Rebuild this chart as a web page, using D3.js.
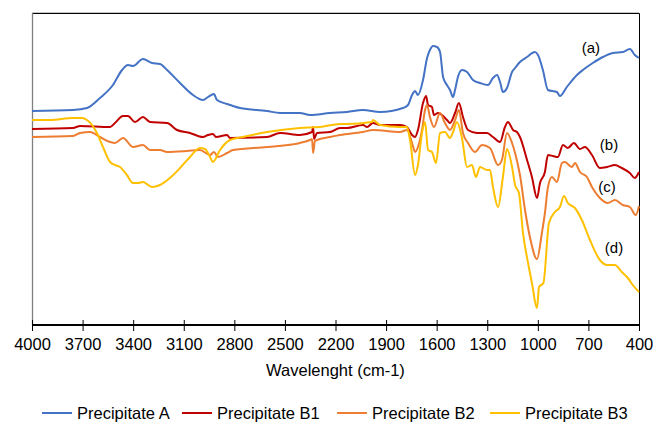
<!DOCTYPE html>
<html>
<head>
<meta charset="utf-8">
<script src="https://cdn.jsdelivr.net/npm/d3@7"></script>
<style>
  body { margin: 0; background: #fff; }
  svg text { font-family: "Liberation Sans", Arial, sans-serif; fill: #000; }
</style>
</head>
<body>
<svg id="plot" width="656" height="422"></svg>
<script>
// wavenumber ticks (cm-1), axis runs from 4000 down to 400
const xTicks = [4000, 3700, 3400, 3100, 2800, 2500, 2200, 1900, 1600, 1300, 1000, 700, 400];

// [wavenumber, relative transmittance (arbitrary, offset traces)]
const precipA = [
  [4000,214],[3757,215],[3674,217],[3597,227],[3520,240],[3466,255],[3431,260],[3401,259],
  [3342,266],[3288,262],[3241,261],[3199,255],[3122,242],[3045,230],[2986,225],[2956,228],
  [2921,231],[2903,225],[2843,221],[2766,217],[2606,214],[2529,212],[2411,212],[2351,210],
  [2233,212],[2132,213],[2037,215],[1936,213],[1800,217],[1770,220],[1746,230],[1728,234],
  [1711,230],[1681,245],[1657,267],[1640,275],[1622,279],[1598,278],[1580,273],[1562,248],
  [1539,240],[1521,235],[1503,228],[1491,235],[1474,248],[1450,255],[1420,253],[1385,245],
  [1343,242],[1296,240],[1266,247],[1242,250],[1224,243],[1207,233],[1183,237],[1153,253],
  [1135,257],[1106,263],[1064,268],[1017,273],[999,270],[970,255],[940,235],[887,233],
  [869,229],[828,238],[768,250],[733,255],[674,262],[614,268],[555,272],[496,273],
  [454,276],[425,270],[400,267]
];
const precipB1 = [
  [4000,196],[3757,197],[3715,199],[3537,198],[3508,202],[3460,209],[3431,209],[3389,203],
  [3342,208],[3300,203],[3199,202],[3140,195],[3063,192],[2986,188],[2956,190],[2927,191],
  [2909,188],[2843,190],[2826,187],[2606,188],[2529,192],[2411,190],[2339,193],[2333,198],
  [2327,186],[2310,192],[2233,193],[2173,197],[2132,197],[2037,200],[2013,198],[1978,202],
  [1936,200],[1817,200],[1776,198],[1746,190],[1728,188],[1711,195],[1681,222],[1663,229],
  [1651,220],[1628,218],[1616,210],[1592,212],[1568,210],[1539,205],[1521,202],[1491,212],
  [1468,222],[1444,208],[1414,195],[1361,192],[1301,192],[1266,188],[1224,183],[1195,198],
  [1177,203],[1147,195],[1124,193],[1106,188],[1064,165],[1035,148],[1005,127],[987,142],
  [958,153],[940,170],[910,169],[881,168],[851,180],[822,177],[786,182],[750,176],
  [721,178],[679,170],[632,157],[590,158],[543,160],[502,157],[454,152],[425,147],[400,153]
];
const precipB2 = [
  [4000,188],[3757,189],[3715,192],[3656,193],[3597,188],[3537,183],[3508,182],[3460,187],
  [3401,178],[3342,180],[3300,175],[3241,175],[3199,173],[3081,174],[3004,175],[2944,170],
  [2921,173],[2897,168],[2843,172],[2808,175],[2606,178],[2411,182],[2351,185],[2339,186],
  [2333,172],[2322,184],[2310,185],[2233,188],[2173,190],[2037,193],[1978,195],[1817,193],
  [1776,195],[1746,182],[1728,173],[1711,178],[1687,195],[1669,215],[1657,220],[1640,208],
  [1616,198],[1580,212],[1551,202],[1521,195],[1491,205],[1468,215],[1444,192],[1414,182],
  [1373,173],[1331,180],[1284,177],[1236,160],[1213,165],[1183,192],[1153,182],[1135,172],
  [1106,150],[1076,115],[1047,88],[1005,66],[976,92],[958,112],[940,138],[916,148],
  [887,143],[857,162],[840,163],[798,158],[780,162],[750,153],[709,148],[679,138],
  [632,127],[585,122],[543,125],[496,120],[454,118],[419,110],[400,119]
];
const precipB3 = [
  [4000,205],[3893,205],[3757,207],[3703,207],[3674,205],[3644,200],[3615,192],[3579,178],
  [3537,163],[3508,160],[3478,158],[3437,150],[3401,142],[3371,142],[3342,143],[3288,138],
  [3241,140],[3182,147],[3122,157],[3063,168],[3004,177],[2974,176],[2944,168],[2927,163],
  [2885,175],[2826,185],[2749,188],[2606,193],[2411,197],[2292,198],[2173,201],[2132,201],
  [1984,203],[1978,205],[1936,200],[1817,198],[1776,198],[1758,185],[1728,150],[1711,160],
  [1687,192],[1669,203],[1651,175],[1628,173],[1604,162],[1580,192],[1551,193],[1521,187],
  [1503,193],[1480,203],[1450,187],[1420,158],[1391,160],[1367,148],[1343,158],[1301,155],
  [1284,155],[1266,138],[1236,118],[1207,148],[1183,176],[1153,158],[1135,140],[1112,132],
  [1088,92],[1058,62],[1035,42],[1005,17],[993,38],[967,42],[934,102],[899,113],
  [869,118],[845,129],[822,122],[780,117],[739,105],[691,85],[632,65],[590,60],
  [543,60],[502,53],[466,47],[437,40],[400,33]
];

const seriesNames = ['Precipitate A', 'Precipitate B1', 'Precipitate B2', 'Precipitate B3'];
const seriesColors = ['#4472C4', '#C00000', '#ED7D31', '#FFC000'];
const traceLabels = ['(a)', '(b)', '(c)', '(d)'];
const labelPos = [[685, 277], [578, 180], [590, 138], [548, 77]]; // [wavenumber, value]

const series = [precipA, precipB1, precipB2, precipB3];

const svg = d3.select('#plot');
const plotLeft = 32, plotRight = 639, plotTop = 13, plotBottom = 325;

const x = d3.scaleLinear().domain([4000, 400]).range([plotLeft, plotRight]);
const y = d3.scaleLinear().domain([0, 312]).range([plotBottom, plotTop]);

// frame
svg.append('line').attr('x1', plotLeft).attr('x2', plotRight).attr('y1', 12.5).attr('y2', 12.5)
  .attr('stroke', '#c8c8c8').attr('stroke-width', 1);
svg.append('line').attr('x1', plotLeft).attr('x2', plotRight + 0.5).attr('y1', 13.5).attr('y2', 13.5)
  .attr('stroke', '#000').attr('stroke-width', 1);
svg.append('line').attr('x1', plotRight + 0.5).attr('x2', plotRight + 0.5).attr('y1', 13.5).attr('y2', plotBottom)
  .attr('stroke', '#000').attr('stroke-width', 1);
svg.append('line').attr('x1', plotLeft + 0.5).attr('x2', plotLeft + 0.5).attr('y1', 13).attr('y2', plotBottom)
  .attr('stroke', '#808080').attr('stroke-width', 1.3);

// spectra
const line = d3.line()
  .x(d => x(d[0]))
  .y(d => y(d[1]))
  .curve(d3.curveMonotoneX);

svg.selectAll('.trace')
  .data(series)
  .enter().append('path')
  .attr('class', 'trace')
  .attr('d', line)
  .attr('fill', 'none')
  .attr('stroke', (d, i) => seriesColors[i])
  .attr('stroke-width', 2)
  .attr('stroke-linejoin', 'round');

// x axis
const xAxis = d3.axisBottom(x).tickValues(xTicks).tickSize(5).tickFormat(d3.format('d'));
const gx = svg.append('g')
  .attr('transform', `translate(0, ${plotBottom})`)
  .call(xAxis);
gx.select('.domain').remove();
gx.selectAll('.tick line').attr('y1', -5).attr('y2', 6).attr('stroke', '#000').attr('stroke-width', 1);
gx.selectAll('.tick text').attr('y', 13).attr('font-size', 16.5)
  .style('font-family', '"Liberation Sans", Arial, sans-serif');
svg.append('line').attr('x1', plotLeft).attr('x2', plotRight + 1).attr('y1', plotBottom).attr('y2', plotBottom)
  .attr('stroke', '#000').attr('stroke-width', 2);

svg.append('text')
  .attr('x', (plotLeft + plotRight) / 2)
  .attr('y', 376)
  .attr('text-anchor', 'middle')
  .attr('font-size', 16.5)
  .text('Wavelenght (cm-1)');

// trace labels
svg.selectAll('.tlabel')
  .data(traceLabels)
  .enter().append('text')
  .attr('class', 'tlabel')
  .attr('x', (d, i) => x(labelPos[i][0]))
  .attr('y', (d, i) => y(labelPos[i][1]) + 5)
  .attr('text-anchor', 'middle')
  .attr('font-size', 15)
  .text(d => d);

// legend
const legendX = [42, 182, 337, 490];
const legend = svg.selectAll('.legend')
  .data(seriesNames)
  .enter().append('g')
  .attr('class', 'legend')
  .attr('transform', (d, i) => `translate(${legendX[i]}, 413)`);
legend.append('line')
  .attr('x1', 0).attr('x2', 30).attr('y1', 0).attr('y2', 0)
  .attr('stroke', (d, i) => seriesColors[i]).attr('stroke-width', 2);
legend.append('text')
  .attr('x', 35).attr('y', 6)
  .attr('font-size', 16.5)
  .text(d => d);
</script>
</body>
</html>
